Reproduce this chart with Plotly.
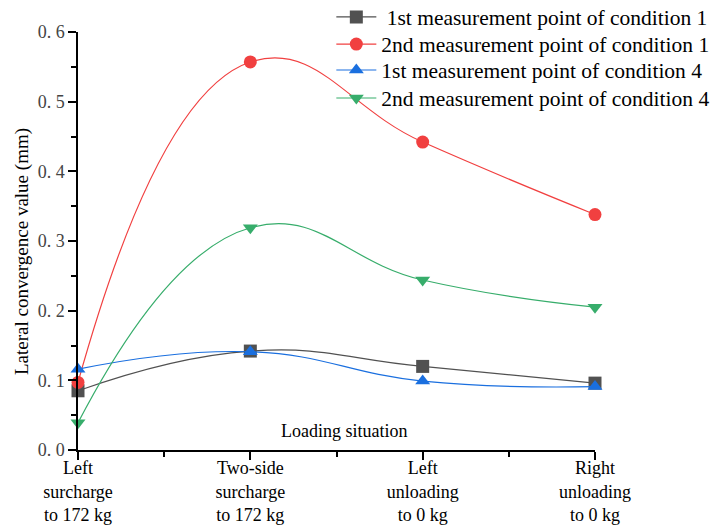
import plotly.graph_objects as go

categories = ["Left<br>surcharge<br>to 172 kg", "Two-side<br>surcharge<br>to 172 kg",
              "Left<br>unloading<br>to 0 kg", "Right<br>unloading<br>to 0 kg"]
x_pos = [0, 1, 2, 3]
names = ["1st measurement point of condition 1", "2nd measurement point of condition 1",
         "1st measurement point of condition 4", "2nd measurement point of condition 4"]
s1 = [0.085, 0.142, 0.120, 0.096]
s2 = [0.097, 0.557, 0.442, 0.338]
s3 = [0.116, 0.141, 0.099, 0.091]
s4 = [0.039, 0.319, 0.244, 0.205]
y_ticks = [0.0, 0.1, 0.2, 0.3, 0.4, 0.5, 0.6]
y_ticktext = ["0. 0", "0. 1", "0. 2", "0. 3", "0. 4", "0. 5", "0. 6"]

colors = ["#515151", "#F14040", "#1A6FDF", "#37AD6B"]
symbols = ["square", "circle", "triangle-up", "triangle-down"]
series = [s1, s2, s3, s4]
display_names = [" " + names[0], names[1], names[2], names[3]]
legend_ids = ["legend", "legend2", "legend3", "legend4"]
legend_y = [1.036, 0.971, 0.909, 0.842]

serif = "Liberation Serif"

fig = go.Figure()
for ys, nm, c, sym, lg in zip(series, display_names, colors, symbols, legend_ids):
    fig.add_trace(go.Scatter(
        x=x_pos, y=ys, name=nm, mode="lines+markers", legend=lg,
        line=dict(color=c, width=1.2, shape="spline", smoothing=1.3),
        marker=dict(color=c, symbol=sym, size=13),
        cliponaxis=False,
    ))

legend_layout = {}
for lg, ly in zip(legend_ids, legend_y):
    legend_layout[lg] = dict(x=0.49, y=ly, xanchor="left", yanchor="middle",
                             bgcolor="rgba(0,0,0,0)",
                             font=dict(family=serif, size=21.5, color="black"),
                             itemwidth=40)

fig.update_layout(
    width=714, height=527,
    margin=dict(l=78, r=119, t=32, b=77, autoexpand=False),
    plot_bgcolor="white", paper_bgcolor="white",
    showlegend=True,
    **legend_layout,
    xaxis=dict(range=[0, 3], tickvals=x_pos, ticktext=categories, automargin=False,
               showline=True, linecolor="black", linewidth=1.5,
               ticks="outside", ticklen=8, tickwidth=1.5, tickcolor="black",
               ticklabelstandoff=-7,
               minor=dict(tickvals=[0.5, 1.5, 2.5], ticks="outside", ticklen=5,
                          tickwidth=1.5, tickcolor="black"),
               showgrid=False, zeroline=False,
               tickfont=dict(family=serif, size=18, color="black")),
    yaxis=dict(range=[0, 0.6], tickvals=y_ticks, ticktext=y_ticktext, automargin=False,
               showline=True, linecolor="black", linewidth=1.5,
               ticks="outside", ticklen=8, tickwidth=1.5, tickcolor="black",
               minor=dict(tickvals=[0.05, 0.15, 0.25, 0.35, 0.45, 0.55], ticks="outside",
                          ticklen=5, tickwidth=1.5, tickcolor="black"),
               showgrid=False, zeroline=False,
               tickfont=dict(family=serif, size=18, color="#444444")),
    annotations=[
        dict(text="Loading situation", x=0.515, y=0.045, xref="paper", yref="paper",
             xanchor="center", yanchor="middle", showarrow=False,
             font=dict(family=serif, size=18, color="black")),
        dict(text="Lateral convergence value (mm)", x=-0.108, y=0.474, xref="paper", yref="paper",
             xanchor="center", yanchor="middle", showarrow=False, textangle=-90,
             font=dict(family=serif, size=19, color="black")),
    ],
)

fig.write_html("out.html")
